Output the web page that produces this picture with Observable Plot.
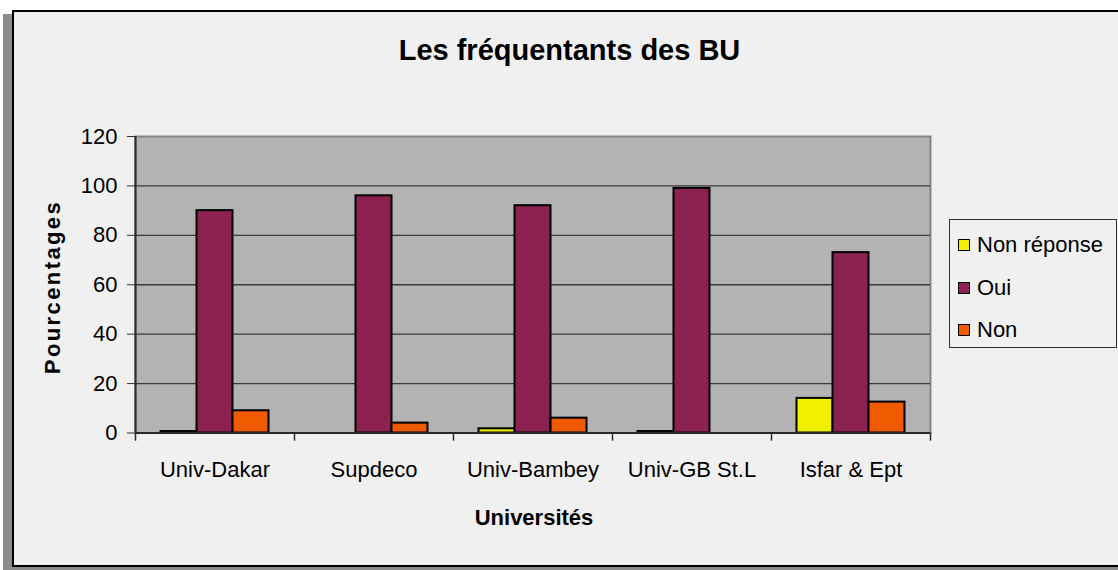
<!DOCTYPE html>
<html>
<head>
<meta charset="utf-8">
<script src="https://cdn.jsdelivr.net/npm/d3@7"></script>
<script src="https://cdn.jsdelivr.net/npm/@observablehq/plot@0.6"></script>
<style>
  html, body { margin: 0; padding: 0; }
  body { width: 1118px; height: 570px; overflow: hidden; background: #ffffff; position: relative;
         font-family: "Liberation Sans", Arial, sans-serif; color: #000; }
  #frame { position: absolute; left: 12px; top: 10px; width: 1200px; height: 557px; box-sizing: border-box;
           border: 2px solid #000; background: #f0f0f0; box-shadow: -9px 4px 0 #8c8c8c; }
  #chart { position: absolute; left: 0; top: 0; }
  #title { position: absolute; left: 0; width: 1139px; top: 34px; text-align: center; font-weight: bold; font-size: 29px; }
  #xlabel { position: absolute; left: 0; width: 1068px; top: 505px; text-align: center; font-weight: bold; font-size: 22px; }
  #ylabel { position: absolute; left: 53px; top: 287px; transform: translate(-50%, -50%) rotate(-90deg);
            font-weight: bold; font-size: 22px; letter-spacing: 2.4px; white-space: nowrap; }
  #legend { position: absolute; left: 949px; top: 219px; width: 168px; height: 129px; box-sizing: border-box;
            border: 1px solid #333; background: #f0f0f0; }
  .item { position: absolute; left: 8px; height: 26px; display: flex; align-items: center; font-size: 22px; white-space: nowrap; }
  .sw { width: 10px; height: 10px; border: 1.5px solid #000; margin-right: 7px; }
</style>
</head>
<body>
<div id="frame"></div>
<div id="chart"></div>
<div id="title">Les fréquentants des BU</div>
<div id="xlabel">Universités</div>
<div id="ylabel">Pourcentages</div>
<div id="legend"></div>
<script>
const categories = ["Univ-Dakar", "Supdeco", "Univ-Bambey", "Univ-GB St.L", "Isfar & Ept"];
const seriesNames = ["Non réponse", "Oui", "Non"];
const seriesColors = ["#f0f000", "#8b2252", "#f05a00"];
const nonReponse = [0.6, 0, 1.7, 0.6, 14];
const oui = [90, 96, 92, 99, 73];
const non = [9, 4, 6, 0, 12.5];
const yTicks = [0, 20, 40, 60, 80, 100, 120];

const seriesValues = [nonReponse, oui, non];
const W = 1118, H = 570;
const mL = 135, mR = 188, mT = 136, mB = 137.5;
const band = (W - mL - mR) / categories.length;
const barW = 36;

const marks = [
  Plot.frame({fill: "#b3b3b3", stroke: "#858585", strokeWidth: 2}),
  Plot.ruleY(yTicks.filter(d => d > 0 && d < 120), {stroke: "#3a3a3a", strokeWidth: 1.3}),
  Plot.axisY({ticks: yTicks, tickSize: 8, tickPadding: 10, fontSize: 22, label: null, stroke: "#333"}),
  Plot.axisX({tickSize: 0, tickPadding: 28.5, fontSize: 22, label: null})
];
seriesValues.forEach((vals, s) => {
  const rows = categories.map((c, i) => ({cat: c, v: vals[i]})).filter(d => d.v > 0);
  marks.push(Plot.barY(rows, {
    x: "cat", y: "v", fill: seriesColors[s], stroke: "#000", strokeWidth: 2,
    insetLeft: (band - barW) / 2, insetRight: (band - barW) / 2, dx: (s - 1) * barW
  }));
});
// axis lines and category separator ticks
marks.push(Plot.ruleY([0], {stroke: "#2a2a2a", strokeWidth: 2}));
marks.push(Plot.ruleX([categories[0]], {x: d => d, dx: -band / 2, stroke: "#2a2a2a", strokeWidth: 2}));
marks.push(Plot.ruleX(categories, {x: d => d, dx: -band / 2, y1: 0, y2: -3.3, stroke: "#2a2a2a", strokeWidth: 1.5}));
marks.push(Plot.ruleX([categories[categories.length - 1]], {x: d => d, dx: band / 2, y1: 0, y2: -3.3, stroke: "#2a2a2a", strokeWidth: 1.5}));

const chart = Plot.plot({
  width: W, height: H,
  marginLeft: mL, marginRight: mR, marginTop: mT, marginBottom: mB,
  style: {background: "transparent", color: "#000", fontFamily: "'Liberation Sans', Arial, sans-serif", overflow: "visible"},
  x: {type: "band", domain: categories, padding: 0},
  y: {domain: [0, 120]},
  marks
});
document.getElementById("chart").appendChild(chart);

const legend = document.getElementById("legend");
seriesNames.forEach((n, i) => {
  const it = document.createElement("div");
  it.className = "item";
  it.style.top = (12 + i * 42.5) + "px";
  const sw = document.createElement("span");
  sw.className = "sw";
  sw.style.background = seriesColors[i];
  it.appendChild(sw);
  it.appendChild(document.createTextNode(n));
  legend.appendChild(it);
});
</script>
</body>
</html>
